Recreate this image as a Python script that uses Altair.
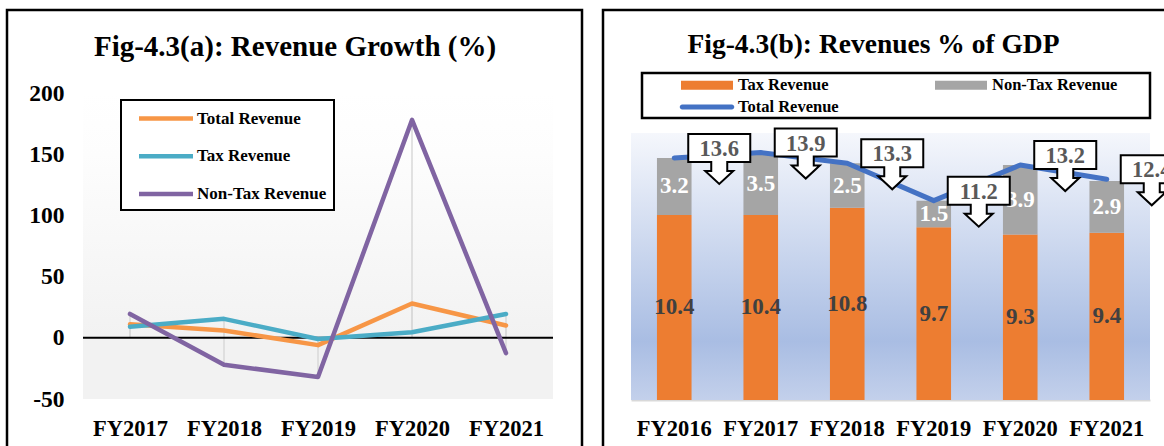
import altair as alt
import pandas as pd

FONT = "Liberation Serif"

# ---------------- Fig-4.3(a): revenue growth (%) ----------------
growth_years = ["FY2017", "FY2018", "FY2019", "FY2020", "FY2021"]
growth_series = ["Total Revenue", "Tax Revenue", "Non-Tax Revenue"]
growth_colors = ["#F79646", "#4BACC6", "#8064A2"]
total_growth = [11, 6, -6, 28, 10]
tax_growth = [9, 15.5, -1, 4.5, 19.5]
nontax_growth = [19.5, -22, -32, 178, -12.5]
growth_ticks = [-50, 0, 50, 100, 150, 200]

# ---------------- Fig-4.3(b): revenues as % of GDP ----------------
gdp_years = ["FY2016", "FY2017", "FY2018", "FY2019", "FY2020", "FY2021"]
tax_gdp = [10.4, 10.4, 10.8, 9.7, 9.3, 9.4]
nontax_gdp = [3.2, 3.5, 2.5, 1.5, 3.9, 2.9]
total_gdp = [13.6, 13.9, 13.3, 11.2, 13.2, 12.4]
gdp_parts = ["Tax Revenue", "Non-Tax Revenue"]
gdp_items = ["Tax Revenue", "Non-Tax Revenue", "Total Revenue"]
gdp_colors = ["#ED7D31", "#A5A5A5", "#4472C4"]

growth_df = pd.DataFrame({
    "year": growth_years * 3,
    "series": [s for s in growth_series for _ in growth_years],
    "value": total_growth + tax_growth + nontax_growth,
})
parts_df = pd.DataFrame({
    "year": gdp_years * 2,
    "component": [c for c in gdp_parts for _ in gdp_years],
    "value": tax_gdp + nontax_gdp,
    "stack_order": [i for i in range(len(gdp_parts)) for _ in gdp_years],
})
total_df = pd.DataFrame({"year": gdp_years, "value": total_gdp})
one_row = pd.DataFrame({"panel": [1]})

label_style = dict(labelFont=FONT, labelFontWeight="bold", labelColor="black")

# ================= left panel =================
W1, H1 = 470, 306

gx = alt.X(
    "year:N",
    scale=alt.Scale(type="point", domain=growth_years, padding=0.5),
    axis=alt.Axis(title=None, domain=False, ticks=False, tickSize=0, grid=False,
                  labelAngle=0, labelFontSize=22.5, labelPadding=18, **label_style),
)
gy_scale = alt.Scale(domain=[-50, 200], nice=False, zero=False)
gy = alt.Y(
    "value:Q",
    scale=gy_scale,
    axis=alt.Axis(title=None, values=growth_ticks, domain=False, ticks=False, tickSize=0,
                  grid=False, labelFontSize=23.5, labelPadding=19,
                  labelExpr="datum.value < 0 ? '-' + abs(datum.value) : '' + datum.value",
                  **label_style),
)

frame_a = alt.Chart(one_row).mark_rect(fillOpacity=0, stroke="black", strokeWidth=2.5).encode(
    x=alt.value(-76), x2=alt.value(W1 + 29), y=alt.value(-83), y2=alt.value(H1 + 60)
)
bg_a = alt.Chart(one_row).mark_rect(
    fill=alt.LinearGradient(
        gradient="linear", x1=0, x2=0, y1=0, y2=1,
        stops=[alt.GradientStop(color="#ffffff", offset=0),
               alt.GradientStop(color="#fdfdfd", offset=0.2),
               alt.GradientStop(color="#f2f2f2", offset=0.8),
               alt.GradientStop(color="#f2f2f2", offset=1)],
    )
).encode(x=alt.value(0), x2=alt.value("width"), y=alt.value(0), y2=alt.value("height"))

drop_lines = alt.Chart(growth_df).mark_rule(color="#d9d9d9", strokeWidth=1.5).encode(
    x=gx, y=gy, y2=alt.datum(0)
)
zero_line = alt.Chart(one_row).mark_rule(color="black", strokeWidth=2).encode(
    y=alt.datum(0, scale=gy_scale)
)
growth_lines = alt.Chart(growth_df).mark_line(strokeWidth=4.5, strokeCap="round", strokeJoin="round").encode(
    x=gx,
    y=gy,
    color=alt.Color(
        "series:N",
        scale=alt.Scale(domain=growth_series, range=growth_colors),
        legend=alt.Legend(
            title=None, orient="none", legendX=38, legendY=7, padding=7,
            symbolType="M -3 0 L 3 0", symbolSize=324, symbolStrokeWidth=4.5, symbolOffset=26.5,
            labelOffset=19.5, rowPadding=16.7, labelFontSize=17,
        ),
    ),
)

left = alt.layer(frame_a, bg_a, drop_lines, zero_line, growth_lines).properties(
    width=W1, height=H1,
    title=alt.TitleParams(
        "Fig-4.3(a): Revenue Growth (%)", font=FONT, fontSize=29, fontWeight="bold",
        color="black", anchor="middle", frame="group", dx=-23, offset=-76, baseline="alphabetic",
    ),
)

# ================= right panel =================
W2, H2 = 519, 307
PLOT_TOP = 40  # plot area starts below the legend strip

bx = alt.X(
    "year:N",
    scale=alt.Scale(type="band", domain=gdp_years, paddingInner=0.6, paddingOuter=0.3),
    axis=alt.Axis(title=None, domain=True, domainColor="#d9d9d9", domainWidth=2, ticks=False,
                  tickSize=0, grid=False, labelAngle=0, labelFontSize=22.5, labelPadding=17, **label_style),
)
by_scale = alt.Scale(domain=[0, 15], range=[H2, PLOT_TOP], nice=False)

frame_b = alt.Chart(one_row).mark_rect(fillOpacity=0, stroke="black", strokeWidth=2.5).encode(
    x=alt.value(-28), x2=alt.value(W2 + 40), y=alt.value(-83), y2=alt.value(H2 + 60)
)
bg_b = alt.Chart(one_row).mark_rect(
    fill=alt.LinearGradient(
        gradient="linear", x1=0, x2=0, y1=0, y2=1,
        stops=[alt.GradientStop(color="#f5f7fc", offset=0),
               alt.GradientStop(color="#a9bde3", offset=0.78),
               alt.GradientStop(color="#c3d0eb", offset=1)],
    )
).encode(x=alt.value(0), x2=alt.value("width"), y=alt.value(PLOT_TOP), y2=alt.value("height"))
legend_box = alt.Chart(one_row).mark_rect(fill="white", stroke="black", strokeWidth=2.5).encode(
    x=alt.value(11), x2=alt.value("width"), y=alt.value(-20), y2=alt.value(25)
)

bars = alt.Chart(parts_df).mark_bar().encode(
    x=bx,
    y=alt.Y("value:Q", stack="zero", scale=by_scale, axis=None),
    fill=alt.Fill("component:N", scale=alt.Scale(domain=gdp_parts, range=gdp_colors[:2]), legend=None),
    order=alt.Order("stack_order:Q", sort="ascending"),
)
bar_labels = alt.Chart(parts_df).transform_stack(
    stack="value", groupby=["year"], as_=["v0", "v1"],
    sort=[alt.SortField("stack_order", order="ascending")],
).transform_calculate(mid="(datum.v0 + datum.v1) / 2").mark_text(
    font=FONT, fontWeight="bold", fontSize=23, baseline="middle"
).encode(
    x=bx,
    y=alt.Y("mid:Q", scale=by_scale, axis=None),
    text=alt.Text("value:Q", format=".1f"),
    color=alt.condition("datum.component == 'Tax Revenue'", alt.value("#404040"), alt.value("#ffffff")),
)
total_line = alt.Chart(total_df).mark_line(
    color=gdp_colors[2], strokeWidth=5, strokeCap="round", strokeJoin="round"
).encode(x=bx, y=alt.Y("value:Q", scale=by_scale, axis=None))

# down-arrow callout: box above, arrow pointing at the value
CALLOUT = ("M -0.969 -0.75 L 0.969 -0.75 L 0.969 0.125 L 0.25 0.125 L 0.25 0.406 "
           "L 0.4375 0.406 L 0 0.8125 L -0.4375 0.406 L -0.25 0.406 L -0.25 0.125 "
           "L -0.969 0.125 Z")
callouts = alt.Chart(total_df).mark_point(
    shape=CALLOUT, size=4096, filled=True, fill="white", stroke="black", strokeWidth=2,
    opacity=1, xOffset=45,
).encode(x=bx, y=alt.Y("value:Q", scale=by_scale, axis=None))
callout_text = alt.Chart(total_df).mark_text(
    font=FONT, fontWeight="bold", fontSize=22.5, color="#595959", dx=45, dy=-9, baseline="middle"
).encode(x=bx, y=alt.Y("value:Q", scale=by_scale, axis=None), text=alt.Text("value:Q", format=".1f"))

# legend keys: wide bars for the stacked parts, a thick rounded line for the total
RECT_SYM = "M -2.889 -0.5 L 2.889 -0.5 L 2.889 0.5 L -2.889 0.5 Z"
LINE_SYM = ("M -2.75 -0.278 L 2.75 -0.278 A 0.278 0.278 0 0 1 2.75 0.278 "
            "L -2.75 0.278 A 0.278 0.278 0 0 1 -2.75 -0.278 Z")
gdp_legend = alt.Legend(
    title=None, orient="none", legendX=11, legendY=-20, columns=2, direction="horizontal",
    columnPadding=60, rowPadding=4, padding=3, symbolOffset=53, labelOffset=22, symbolSize=324,
    symbolStrokeWidth=0, labelFontSize=16.5, strokeColor="transparent", fillColor="transparent",
)
legend_keys = alt.Chart(parts_df).transform_filter("false").mark_point(
    filled=True, opacity=1, size=324
).encode(
    color=alt.Color("component:N", scale=alt.Scale(domain=gdp_items, range=gdp_colors), legend=gdp_legend),
    shape=alt.Shape("component:N", scale=alt.Scale(domain=gdp_items, range=[RECT_SYM, RECT_SYM, LINE_SYM]),
                    legend=gdp_legend),
)

right = alt.layer(frame_b, bg_b, legend_box, bars, bar_labels, total_line, callouts, callout_text,
                  legend_keys).properties(
    width=W2, height=H2,
    title=alt.TitleParams(
        "Fig-4.3(b): Revenues % of GDP", font=FONT, fontSize=27.5, fontWeight="bold",
        color="black", anchor="middle", frame="group", dx=-17, offset=-72, baseline="alphabetic",
    ),
)

# the page is a fixed 1164 x 446 window onto the two framed panels
chart = alt.hconcat(left, right, spacing=17).resolve_scale(
    color="independent", shape="independent", fill="independent"
).resolve_legend(
    color="independent", shape="independent", fill="independent"
).properties(
    autosize=alt.AutoSizeParams(type="none"),
    padding={"left": 83, "top": 93, "right": 1081, "bottom": 353},
).configure_view(strokeWidth=0).configure_legend(
    strokeColor="black", fillColor="white", strokeWidth=2,
    labelFont=FONT, labelFontWeight="bold", labelColor="black",
)

chart.save("out.html", embed_options={"renderer": "svg", "actions": False})
